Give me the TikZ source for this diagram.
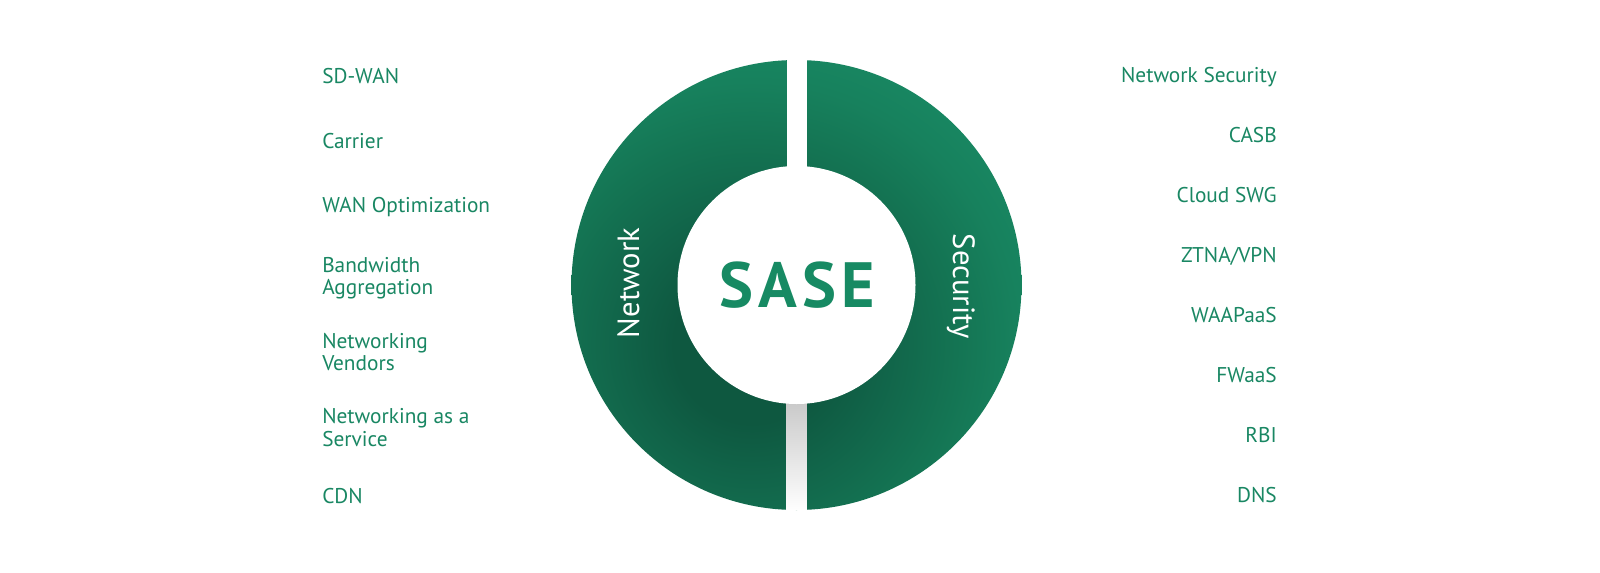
\documentclass[tikz,border=0pt]{standalone}
\usepackage{fontspec}
\setmainfont{PT Sans}
\definecolor{txt}{HTML}{198763}
\definecolor{sasec}{HTML}{178A63}
\definecolor{rdk}{HTML}{0E5840}
\definecolor{rmd}{HTML}{116449}
\definecolor{rlt}{HTML}{147453}
\definecolor{rtop}{HTML}{17815D}
\definecolor{rfar}{HTML}{188661}
\definecolor{gaptop}{HTML}{C6C6C6}
\pgfdeclareradialshading{ringsh}{\pgfpoint{0bp}{0bp}}{color(0bp)=(rdk); color(6.5bp)=(rdk); color(11bp)=(rmd); color(17bp)=(rlt); color(22bp)=(rtop); color(25bp)=(rfar); color(50bp)=(rfar)}
\tikzset{
  lbl/.style={font=\fontsize{16}{19}\selectfont, text=txt, inner sep=0pt},
  lleft/.style={lbl, anchor=base west},
  lright/.style={lbl, anchor=base east},
  side/.style={font=\fontsize{23}{27}\selectfont, text=white, inner sep=0pt, anchor=base},
  core/.style={font=\fontsize{48}{56}\bfseries\addfontfeature{LetterSpace=8}\selectfont, text=sasec, inner sep=0pt, anchor=base},
}
\begin{document}
\begin{tikzpicture}[x=0.75pt,y=-0.75pt]
\useasboundingbox (0,0) rectangle (1600,572);
\fill[white] (0,0) rectangle (1600,572);
\coordinate (c) at (796.5,285);
% ring with gradient (darker towards the lower left of the inner disc)
\begin{scope}
  \clip (c) circle[radius=225];
  \shade[shading=ringsh] (752,345) circle[radius=300];
  % the two gaps
  \fill[white] (786.5,40) rectangle (806.5,530);
  % shadow seen in the lower gap
  \shade[top color=gaptop, bottom color=white] (786.5,395) rectangle (806.5,512);
\end{scope}
% inner disc
\fill[white] (c) circle[radius=119];
\node[core] (sase) at (797,307) {SASE};
\node[side, rotate=90] (network) at (639,283) {Network};
\node[side, rotate=-90] (security) at (953,286.5) {Security};
% left labels
\node[lleft] (sdwan) at (322,83) {SD-WAN};
\node[lleft] (carrier) at (322,148) {Carrier};
\node[lleft] (wanopt) at (322,212) {WAN Optimization};
\node[lleft] (bwa) at (322,272) {Bandwidth};
\node[lleft] (bwb) at (322,294.5) {Aggregation};
\node[lleft] (nva) at (322,348) {Networking};
\node[lleft] (nvb) at (322,370.5) {Vendors};
\node[lleft] (naasa) at (322,423) {Networking as a};
\node[lleft] (naasb) at (322,446) {Service};
\node[lleft] (cdn) at (322,503) {CDN};
% right labels
\node[lright] (netsec) at (1277,82.5) {Network Security};
\node[lright] (casb) at (1277,142.5) {CASB};
\node[lright] (swg) at (1277,202.5) {Cloud SWG};
\node[lright] (ztna) at (1277,262.5) {ZTNA/VPN};
\node[lright] (waap) at (1277,322.5) {WAAPaaS};
\node[lright] (fwaas) at (1277,382.5) {FWaaS};
\node[lright] (rbi) at (1277,442.5) {RBI};
\node[lright] (dns) at (1277,502.5) {DNS};
\end{tikzpicture}
\end{document}
